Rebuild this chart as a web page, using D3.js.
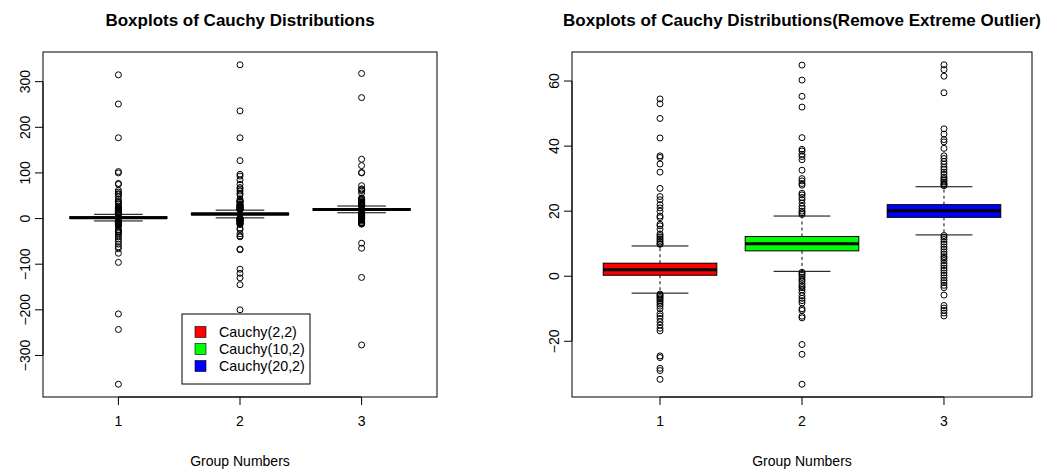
<!DOCTYPE html>
<html>
<head>
<meta charset="utf-8">
<script src="https://cdn.jsdelivr.net/npm/d3@7"></script>
<style>
  body { margin: 0; background: #fff; }
  svg { display: block; }
  text { font-family: "Liberation Sans", Arial, Helvetica, sans-serif; fill: #000; }
</style>
</head>
<body>
<svg id="chart" width="1057" height="475"></svg>
<script>
// ---- data ----
const groups = [1, 2, 3];
const seriesNames = ["Cauchy(2,2)", "Cauchy(10,2)", "Cauchy(20,2)"];
const seriesColors = ["#ff0000", "#00ff00", "#0000ff"];

// box statistics per group
const whiskerLow  = [-5.2, 1.5, 12.7];
const quartile1   = [0.3, 7.8, 18.1];
const medians     = [2.0, 10.0, 20.1];
const quartile3   = [4.0, 12.2, 22.0];
const whiskerHigh = [9.3, 18.5, 27.5];

// outliers that remain after trimming extreme values
const outliersKept = [
  [54.5, 53, 48.5, 42.5, 37, 36.5, 34.5, 32, 27, 24.5, 23.5, 22, 21, 20, 18.5, 18, 16, 15.5, 14.5, 13, 12.5, 12, 11.5, 11, 10.5, 10, 9.8,
   -5.5, -5.8, -6.2, -6.6, -7, -7.5, -8, -8.6, -9.2, -10, -11.5, -12.2, -13, -14, -15, -16, -16.8, -24.5, -25, -28.3, -29, -31.7],
  [64.9, 60.3, 55.3, 52, 42.6, 39, 38.5, 37.5, 36.8, 35.8, 32.6, 30, 29.3, 28.5, 28, 25.5, 25, 24.2, 23.5, 22.5, 21.5, 20.8, 20, 19.5, 19,
   1.2, 0.8, 0.3, -0.3, -1, -1.5, -2.3, -3, -3.5, -4.2, -5, -6, -6.8, -7.5, -8.2, -10, -10.5, -12.3, -12.8, -21, -24, -33.2],
  [65, 63.5, 61.5, 56.4, 45.3, 43.7, 42, 41.3, 39.3, 37, 36.2, 35.3, 34.5, 33.5, 32.8, 32, 31.3, 30.5, 30, 29.5, 29, 28.5, 28.2, 27.8,
   12.5, 12, 11.3, 10.5, 9.8, 9, 8.3, 7.5, 6.8, 6, 5.5, 4.8, 4, 3.3, 2.5, 1.8, 1, 0.3, -0.5, -1.3, -2, -2.8, -3.5, -5.8, -9, -9.8, -10.5, -11.3, -12.2]
];

// extreme outliers, only present in the full data
const outliersExtreme = [
  [315, 251, 177, 103, 100, 77, 75, 62, 58, -36, -40, -45, -50, -56, -62, -66, -76, -96, -209, -243, -363],
  [337, 236, 177, 127, 97, 93, 85, 75, 68, -38, -40, -67, -68, -111, -120, -130, -145, -200],
  [318, 265, 130, 116, 101, 100, 72, -54, -65, -129, -277]
];

const ticksFull = [-300, -200, -100, 0, 100, 200, 300];
const ticksTrimmed = [-20, 0, 20, 40, 60];

const titleFull = "Boxplots of Cauchy Distributions";
const titleTrimmed = "Boxplots of Cauchy Distributions(Remove Extreme Outlier)";
const xLabel = "Group Numbers";

// ---- drawing ----
const svg = d3.select("#chart");
const fmt = d => (d < 0 ? "\u2212" + Math.abs(d) : String(d));
const baseFont = 14;

function drawPanel(opts) {
  const { left, right, top, bottom, outliers, ticks, title, legend } = opts;
  const g = svg.append("g");

  const x = d3.scaleLinear().domain([0.38, 3.62]).range([left, right]);

  const allVals = outliers.flat().concat(whiskerLow, whiskerHigh);
  const [mn, mx] = d3.extent(allVals);
  const pad = (mx - mn) * 0.04;
  const y = d3.scaleLinear().domain([mn - pad, mx + pad]).range([bottom, top]);

  const boxHalf = 0.4, stapleHalf = 0.2;

  groups.forEach((grp, i) => {
    const cx = x(grp);
    // whiskers
    g.append("line")
      .attr("x1", cx).attr("x2", cx)
      .attr("y1", y(quartile3[i])).attr("y2", y(whiskerHigh[i]))
      .attr("stroke", "#000").attr("stroke-width", 1).attr("stroke-dasharray", "3,3");
    g.append("line")
      .attr("x1", cx).attr("x2", cx)
      .attr("y1", y(quartile1[i])).attr("y2", y(whiskerLow[i]))
      .attr("stroke", "#000").attr("stroke-width", 1).attr("stroke-dasharray", "3,3");
    // staples
    [whiskerHigh[i], whiskerLow[i]].forEach(v => {
      g.append("line")
        .attr("x1", x(grp - stapleHalf)).attr("x2", x(grp + stapleHalf))
        .attr("y1", y(v)).attr("y2", y(v))
        .attr("stroke", "#000").attr("stroke-width", 1);
    });
    // box
    g.append("rect")
      .attr("x", x(grp - boxHalf)).attr("width", x(grp + boxHalf) - x(grp - boxHalf))
      .attr("y", y(quartile3[i])).attr("height", y(quartile1[i]) - y(quartile3[i]))
      .attr("fill", seriesColors[i]).attr("stroke", "#000").attr("stroke-width", 1);
    // median
    g.append("line")
      .attr("x1", x(grp - boxHalf)).attr("x2", x(grp + boxHalf))
      .attr("y1", y(medians[i])).attr("y2", y(medians[i]))
      .attr("stroke", "#000").attr("stroke-width", 3);
    // outliers
    g.selectAll(null).data(outliers[i]).enter().append("circle")
      .attr("cx", cx).attr("cy", d => y(d)).attr("r", 3)
      .attr("fill", "none").attr("stroke", "#000").attr("stroke-width", 1);
  });

  // frame
  g.append("rect")
    .attr("x", left).attr("y", top)
    .attr("width", right - left).attr("height", bottom - top)
    .attr("fill", "none").attr("stroke", "#000").attr("stroke-width", 1);

  // y axis
  const yAxis = g.append("g");
  yAxis.append("line")
    .attr("x1", left).attr("x2", left)
    .attr("y1", y(ticks[0])).attr("y2", y(ticks[ticks.length - 1]))
    .attr("stroke", "#000");
  ticks.forEach(t => {
    yAxis.append("line")
      .attr("x1", left - 8).attr("x2", left)
      .attr("y1", y(t)).attr("y2", y(t)).attr("stroke", "#000");
    yAxis.append("text")
      .attr("transform", `translate(${left - 13},${y(t)}) rotate(-90)`)
      .attr("text-anchor", "middle")
      .attr("font-size", baseFont)
      .text(fmt(t));
  });

  // x axis
  const xAxis = g.append("g");
  xAxis.append("line")
    .attr("x1", x(groups[0])).attr("x2", x(groups[groups.length - 1]))
    .attr("y1", bottom).attr("y2", bottom).attr("stroke", "#000");
  groups.forEach(grp => {
    xAxis.append("line")
      .attr("x1", x(grp)).attr("x2", x(grp))
      .attr("y1", bottom).attr("y2", bottom + 8).attr("stroke", "#000");
    xAxis.append("text")
      .attr("x", x(grp)).attr("y", bottom + 29)
      .attr("text-anchor", "middle").attr("font-size", baseFont)
      .text(grp);
  });

  g.append("text")
    .attr("x", (left + right) / 2).attr("y", bottom + 69)
    .attr("text-anchor", "middle").attr("font-size", baseFont)
    .text(xLabel);

  g.append("text")
    .attr("x", (left + right) / 2).attr("y", 26)
    .attr("text-anchor", "middle").attr("font-size", 17).attr("font-weight", "bold")
    .text(title);

  if (legend) {
    const lg = g.append("g").attr("transform", `translate(${legend.x},${legend.y})`);
    lg.append("rect").attr("width", 128).attr("height", 70)
      .attr("fill", "#fff").attr("stroke", "#000");
    seriesNames.forEach((name, i) => {
      const cy = 18 + i * 17;
      lg.append("rect").attr("x", 13).attr("y", cy - 5.5).attr("width", 11).attr("height", 11)
        .attr("fill", seriesColors[i]).attr("stroke", "#000").attr("stroke-width", 0.6);
      lg.append("text").attr("x", 37).attr("y", cy + 5)
        .attr("font-size", 14.3).text(name);
    });
  }
}

drawPanel({
  left: 43, right: 437, top: 52, bottom: 397,
  outliers: outliersKept.map((o, i) => o.concat(outliersExtreme[i])),
  ticks: ticksFull, title: titleFull,
  legend: { x: 182, y: 314 }
});

drawPanel({
  left: 572, right: 1032, top: 52, bottom: 397,
  outliers: outliersKept,
  ticks: ticksTrimmed, title: titleTrimmed,
  legend: null
});
</script>
</body>
</html>
